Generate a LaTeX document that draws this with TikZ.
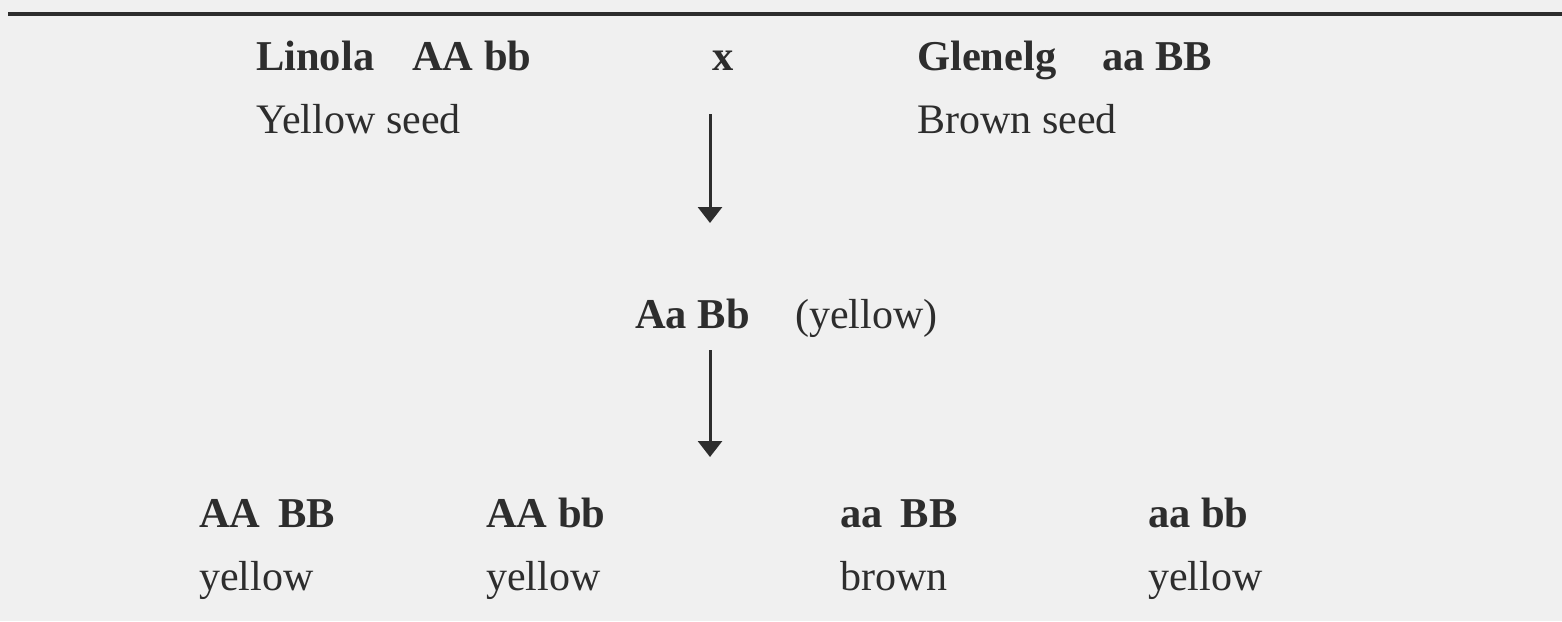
\documentclass[tikz,border=0pt]{standalone}
\usepackage{fontspec}
\setmainfont{Liberation Serif}
\usetikzlibrary{arrows.meta}
\definecolor{bg}{RGB}{240,240,240}
\definecolor{ink}{RGB}{45,45,45}
\begin{document}
\begin{tikzpicture}[x=1pt,y=-1pt,
  geno/.style={anchor=base west,inner sep=0pt,font=\fontsize{42.5}{42.5}\selectfont\bfseries,text=ink},
  pheno/.style={anchor=base west,inner sep=0pt,font=\fontsize{42}{42}\selectfont,text=ink},
  flow/.style={draw=ink,line width=3pt,-{Triangle[width=24pt,length=16pt]}}]
\fill[bg] (0,0) rectangle (1562,621);
\useasboundingbox (0,0) rectangle (1562,621);
\coordinate (rl) at (8,14);
\coordinate (rr) at (1562,14);
\draw[ink,line width=4pt] (rl) -- (rr);
% parents
\node[geno] (p1) at (256,70) {Linola};
\node[geno] (p1g) at (412,70) {AA bb};
\node[geno] (cross) at (712,70) {x};
\node[geno] (p2) at (917,70) {Glenelg};
\node[geno] (p2g) at (1102,70) {aa BB};
\node[pheno] (p1c) at (256,133) {Yellow seed};
\node[pheno] (p2c) at (917,133) {Brown seed};
% F1
\node[geno] (f1) at (635,328) {Aa Bb};
\node[pheno] (f1c) at (795,328) {(yellow)};
% arrows
\coordinate (a1s) at (710,114);
\coordinate (a1e) at (710,223);
\coordinate (a2s) at (710,350);
\coordinate (a2e) at (710,457);
\draw[flow] (a1s) -- (a1e);
\draw[flow] (a2s) -- (a2e);
% F2
\node[geno] (g1) at (199,527) {AA\hspace{18pt}BB};
\node[geno] (g2) at (486,527) {AA bb};
\node[geno] (g3) at (840,527) {aa\hspace{18pt}BB};
\node[geno] (g4) at (1148,527) {aa bb};
\node[pheno] (c1) at (199,590) {yellow};
\node[pheno] (c2) at (486,590) {yellow};
\node[pheno] (c3) at (840,590) {brown};
\node[pheno] (c4) at (1148,590) {yellow};
\end{tikzpicture}
\end{document}
